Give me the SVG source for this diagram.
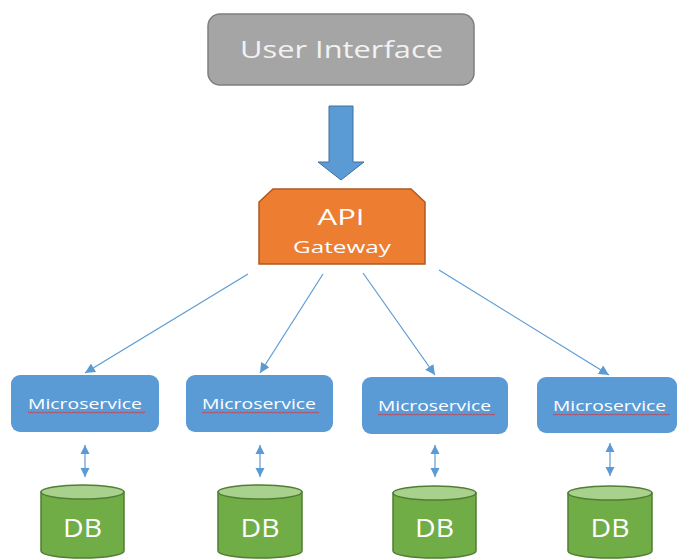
<svg xmlns="http://www.w3.org/2000/svg" width="678" height="559" viewBox="0 0 678 559">
<style>
text{font-family:"Open Sans","Noto Sans","DejaVu Sans",sans-serif;fill:#ffffff;text-anchor:middle}
.ms{fill:#5b9bd5}
.ms-t{font-size:15px}
.db-body{fill:#70ad47;stroke:#507e32;stroke-width:1.5}
.db-top{fill:#a9d18e;stroke:#507e32;stroke-width:1.5}
.db-t{font-size:25px}
.conn{stroke:#5b9bd5;stroke-width:1.2;fill:none}
.squig{stroke:#e03030;stroke-width:0.8;fill:none}
</style>
<defs>
<marker id="ah" viewBox="0 0 10 10" refX="10" refY="5" markerWidth="10" markerHeight="10" markerUnits="userSpaceOnUse" orient="auto">
<path d="M0,0 L10,5 L0,10 Z" fill="#5b9bd5"/>
</marker>
<marker id="dh" viewBox="0 0 10 10" refX="10" refY="5" markerWidth="9" markerHeight="10" markerUnits="userSpaceOnUse" orient="auto-start-reverse">
<path d="M0,0 L10,5 L0,10 Z" fill="#5b9bd5"/>
</marker>
<path id="squig" class="squig" d="M0,0 l1.5,1 l1.5,-1 l1.5,1 l1.5,-1 l1.5,1 l1.5,-1 l1.5,1 l1.5,-1 l1.5,1 l1.5,-1 l1.5,1 l1.5,-1 l1.5,1 l1.5,-1 l1.5,1 l1.5,-1 l1.5,1 l1.5,-1 l1.5,1 l1.5,-1 l1.5,1 l1.5,-1 l1.5,1 l1.5,-1 l1.5,1 l1.5,-1 l1.5,1 l1.5,-1 l1.5,1 l1.5,-1 l1.5,1 l1.5,-1 l1.5,1 l1.5,-1 l1.5,1 l1.5,-1 l1.5,1 l1.5,-1 l1.5,1 l1.5,-1 l1.5,1 l1.5,-1 l1.5,1 l1.5,-1 l1.5,1 l1.5,-1 l1.5,1 l1.5,-1 l1.5,1 l1.5,-1 l1.5,1 l1.5,-1 l1.5,1 l1.5,-1 l1.5,1 l1.5,-1 l1.5,1 l1.5,-1 l1.5,1 l1.5,-1 l1.5,1 l1.5,-1 l1.5,1 l1.5,-1 l1.5,1 l1.5,-1 l1.5,1 l1.5,-1 l1.5,1 l1.5,-1 l1.5,1 l1.5,-1 l1.5,1 l1.5,-1 l1.5,1 l1.5,-1 l1.5,1 l1.5,-1"/>
</defs>
<rect width="678" height="559" fill="#ffffff"/>

<g id="user-interface">
<rect x="208" y="14" width="266" height="71" rx="12" fill="#a5a5a5" stroke="#7f7f7f" stroke-width="1.5"/>
<text x="341.5" y="58" font-size="23" textLength="203" lengthAdjust="spacingAndGlyphs" style="fill:#f2f2f2">User Interface</text>
</g>

<g id="api-gateway">
<path d="M273,189 L411,189 L425,202 L425,264 L259,264 L259,202 Z" fill="#ed7d31" stroke="#ae5a21" stroke-width="1.5"/>
<text x="341" y="225" font-size="22" textLength="47" lengthAdjust="spacingAndGlyphs">API</text>
<text x="342" y="253" font-size="16" textLength="98" lengthAdjust="spacingAndGlyphs">Gateway</text>
</g>

<g id="ms1">
<rect class="ms" x="11" y="375" width="148" height="57" rx="9"/>
<text class="ms-t" x="85" y="409" textLength="114" lengthAdjust="spacingAndGlyphs">Microservice</text>
<use href="#squig" x="28" y="412"/>
</g>
<g id="ms2">
<rect class="ms" x="186" y="375" width="147" height="57" rx="9"/>
<text class="ms-t" x="259" y="409" textLength="114" lengthAdjust="spacingAndGlyphs">Microservice</text>
<use href="#squig" x="202" y="412"/>
</g>
<g id="ms3">
<rect class="ms" x="362" y="377" width="146" height="57" rx="9"/>
<text class="ms-t" x="434.5" y="411" textLength="113" lengthAdjust="spacingAndGlyphs">Microservice</text>
<use href="#squig" x="378" y="414"/>
</g>
<g id="ms4">
<rect class="ms" x="537" y="377" width="140" height="56" rx="9"/>
<text class="ms-t" x="609.5" y="411" textLength="113" lengthAdjust="spacingAndGlyphs">Microservice</text>
<use href="#squig" x="553" y="414"/>
</g>

<g id="db1">
<path class="db-body" d="M41,492 L41,551 A41.5,7 0 0 0 124,551 L124,492 Z"/>
<ellipse class="db-top" cx="82.5" cy="492" rx="41.5" ry="7"/>
<text class="db-t" x="82.5" y="537" textLength="39" lengthAdjust="spacingAndGlyphs">DB</text>
</g>
<g id="db2">
<path class="db-body" d="M218,492 L218,551 A42,7 0 0 0 302,551 L302,492 Z"/>
<ellipse class="db-top" cx="260" cy="492" rx="42" ry="7"/>
<text class="db-t" x="260" y="537" textLength="39" lengthAdjust="spacingAndGlyphs">DB</text>
</g>
<g id="db3">
<path class="db-body" d="M393,493 L393,551 A41.5,7 0 0 0 476,551 L476,493 Z"/>
<ellipse class="db-top" cx="434.5" cy="493" rx="41.5" ry="7"/>
<text class="db-t" x="434.5" y="537" textLength="39" lengthAdjust="spacingAndGlyphs">DB</text>
</g>
<g id="db4">
<path class="db-body" d="M568,493 L568,551 A42,7 0 0 0 652,551 L652,493 Z"/>
<ellipse class="db-top" cx="610" cy="493" rx="42" ry="7"/>
<text class="db-t" x="610" y="537" textLength="39" lengthAdjust="spacingAndGlyphs">DB</text>
</g>

<g id="connectors">
<path d="M329,106 L353,106 L353,162 L364,162 L341,180 L318,162 L329,162 Z" fill="#5b9bd5" stroke="#41719c" stroke-width="1"/>
<line class="conn" x1="248" y1="274" x2="85" y2="373" marker-end="url(#ah)"/>
<line class="conn" x1="323" y1="274" x2="260" y2="373" marker-end="url(#ah)"/>
<line class="conn" x1="363" y1="273" x2="435" y2="375" marker-end="url(#ah)"/>
<line class="conn" x1="439" y1="270" x2="609" y2="375" marker-end="url(#ah)"/>
<line class="conn" x1="85" y1="445" x2="85" y2="477" marker-start="url(#dh)" marker-end="url(#dh)"/>
<line class="conn" x1="260" y1="445" x2="260" y2="477" marker-start="url(#dh)" marker-end="url(#dh)"/>
<line class="conn" x1="435" y1="445" x2="435" y2="477" marker-start="url(#dh)" marker-end="url(#dh)"/>
<line class="conn" x1="610" y1="443" x2="610" y2="476" marker-start="url(#dh)" marker-end="url(#dh)"/>
</g>
</svg>
